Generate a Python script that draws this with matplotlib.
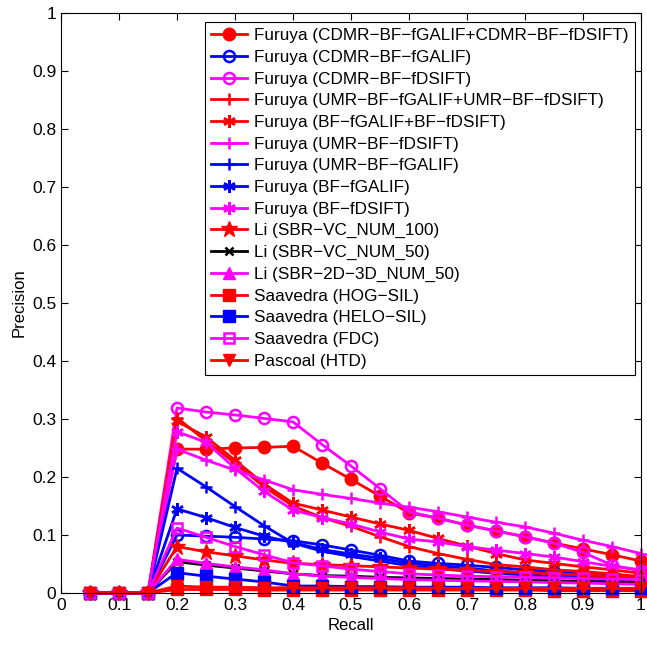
import matplotlib
matplotlib.use('Agg')
from matplotlib import pyplot as plt

recall = [0.05, 0.1, 0.15, 0.2, 0.25, 0.3, 0.35, 0.4, 0.45, 0.5,
          0.55, 0.6, 0.65, 0.7, 0.75, 0.8, 0.85, 0.9, 0.95, 1.0]

cdmr_both = [0, 0, 0, 0.248, 0.248, 0.250, 0.251, 0.253, 0.224, 0.196,
             0.167, 0.138, 0.129, 0.117, 0.107, 0.097, 0.086, 0.076, 0.066, 0.055]
cdmr_galif = [0, 0, 0, 0.100, 0.098, 0.096, 0.093, 0.090, 0.083, 0.074,
              0.065, 0.055, 0.051, 0.048, 0.044, 0.040, 0.037, 0.033, 0.029, 0.025]
cdmr_dsift = [0, 0, 0, 0.319, 0.312, 0.307, 0.301, 0.295, 0.256, 0.219,
              0.180, 0.140, 0.129, 0.117, 0.107, 0.097, 0.086, 0.070, 0.048, 0.038]
umr_both = [0, 0, 0, 0.302, 0.262, 0.224, 0.183, 0.150, 0.130, 0.115,
            0.097, 0.080, 0.068, 0.058, 0.049, 0.045, 0.040, 0.037, 0.033, 0.028]
bf_both = [0, 0, 0, 0.296, 0.269, 0.229, 0.188, 0.155, 0.143, 0.131,
           0.119, 0.108, 0.094, 0.081, 0.068, 0.057, 0.051, 0.045, 0.040, 0.034]
umr_dsift = [0, 0, 0, 0.248, 0.229, 0.212, 0.195, 0.178, 0.170, 0.163,
             0.155, 0.148, 0.140, 0.131, 0.122, 0.114, 0.103, 0.091, 0.080, 0.068]
umr_galif = [0, 0, 0, 0.215, 0.183, 0.149, 0.116, 0.086, 0.072, 0.063,
             0.055, 0.047, 0.042, 0.038, 0.034, 0.031, 0.028, 0.025, 0.022, 0.020]
bf_galif = [0, 0, 0, 0.145, 0.130, 0.113, 0.098, 0.087, 0.075, 0.067,
            0.060, 0.051, 0.047, 0.043, 0.038, 0.035, 0.032, 0.029, 0.026, 0.024]
bf_dsift = [0, 0, 0, 0.278, 0.260, 0.215, 0.175, 0.143, 0.130, 0.119,
            0.105, 0.093, 0.088, 0.080, 0.074, 0.068, 0.062, 0.054, 0.046, 0.040]
li_vc100 = [0, 0, 0, 0.080, 0.071, 0.064, 0.057, 0.051, 0.049, 0.047,
            0.045, 0.043, 0.041, 0.039, 0.037, 0.035, 0.033, 0.031, 0.029, 0.027]
li_vc50 = [0, 0, 0, 0.054, 0.048, 0.043, 0.038, 0.033, 0.030, 0.029,
           0.027, 0.026, 0.025, 0.024, 0.023, 0.022, 0.021, 0.020, 0.019, 0.018]
li_2d3d = [0, 0, 0, 0.058, 0.051, 0.045, 0.040, 0.033, 0.029, 0.027,
           0.025, 0.023, 0.022, 0.021, 0.020, 0.019, 0.018, 0.017, 0.016, 0.015]
sa_hog = [0, 0, 0, 0.006, 0.006, 0.006, 0.005, 0.005, 0.005, 0.005,
          0.005, 0.005, 0.005, 0.005, 0.005, 0.005, 0.004, 0.004, 0.004, 0.004]
sa_helo = [0, 0, 0, 0.035, 0.029, 0.024, 0.019, 0.012, 0.012, 0.011,
           0.011, 0.010, 0.010, 0.010, 0.009, 0.009, 0.009, 0.008, 0.008, 0.008]
sa_fdc = [0, 0, 0, 0.112, 0.096, 0.080, 0.066, 0.052, 0.047, 0.041,
          0.037, 0.033, 0.031, 0.029, 0.028, 0.027, 0.026, 0.025, 0.024, 0.023]
pa_htd = [0, 0, 0, 0.012, 0.010, 0.010, 0.009, 0.009, 0.009, 0.009,
          0.009, 0.009, 0.008, 0.008, 0.008, 0.008, 0.008, 0.008, 0.008, 0.008]

M = '\u2212'
labels = [
    'Furuya (CDMR' + M + 'BF' + M + 'fGALIF+CDMR' + M + 'BF' + M + 'fDSIFT)',
    'Furuya (CDMR' + M + 'BF' + M + 'fGALIF)',
    'Furuya (CDMR' + M + 'BF' + M + 'fDSIFT)',
    'Furuya (UMR' + M + 'BF' + M + 'fGALIF+UMR' + M + 'BF' + M + 'fDSIFT)',
    'Furuya (BF' + M + 'fGALIF+BF' + M + 'fDSIFT)',
    'Furuya (UMR' + M + 'BF' + M + 'fDSIFT)',
    'Furuya (UMR' + M + 'BF' + M + 'fGALIF)',
    'Furuya (BF' + M + 'fGALIF)',
    'Furuya (BF' + M + 'fDSIFT)',
    'Li (SBR' + M + 'VC_NUM_100)',
    'Li (SBR' + M + 'VC_NUM_50)',
    'Li (SBR' + M + '2D' + M + '3D_NUM_50)',
    'Saavedra (HOG' + M + 'SIL)',
    'Saavedra (HELO' + M + 'SIL)',
    'Saavedra (FDC)',
    'Pascoal (HTD)',
]

R, B, P, K = (1, 0, 0), (0, 0, 1), (1, 0, 1), (0, 0, 0)
ast = (6, 2, 0)
# (data, colour, marker, size, filled)
series = [
    (cdmr_both, R, 'o', 9, True),
    (cdmr_galif, B, 'o', 8, False),
    (cdmr_dsift, P, 'o', 8, False),
    (umr_both, R, '+', 9, True),
    (bf_both, R, ast, 9, True),
    (umr_dsift, P, '+', 9, True),
    (umr_galif, B, '+', 9, True),
    (bf_galif, B, ast, 9, True),
    (bf_dsift, P, ast, 9, True),
    (li_vc100, R, '*', 12, True),
    (li_vc50, K, 'x', 6, True),
    (li_2d3d, P, '^', 9, True),
    (sa_hog, R, 's', 8, True),
    (sa_helo, B, 's', 8, True),
    (sa_fdc, P, 's', 7, False),
    (pa_htd, R, 'v', 9, True),
]

plt.rcParams['font.family'] = 'Liberation Sans'
plt.rcParams['font.size'] = 12.5
plt.rcParams['xtick.direction'] = 'in'
plt.rcParams['ytick.direction'] = 'in'

fig = plt.figure(figsize=(6.47, 6.47), dpi=100)
ax = fig.add_axes([0.0943, 0.0835, 0.8964, 0.8964])

for (vals, c, mk, ms, filled), lab in zip(series, labels):
    ax.plot(recall, vals, color=c, marker=mk, markersize=ms, linewidth=2,
            markeredgewidth=1.8 if not filled or mk in ('+', 'x', ast) else 1,
            markerfacecolor=c if filled else 'none', markeredgecolor=c,
            label=lab, clip_on=False)

ax.set_xlim(0, 1)
ax.set_ylim(0, 1)
ticks = [i / 10 for i in range(11)]
ticklabels = ['0'] + ['%.1f' % t for t in ticks[1:-1]] + ['1']
ax.set_xticks(ticks)
ax.set_xticklabels(ticklabels)
ax.set_yticks(ticks)
ax.set_yticklabels(ticklabels)
ax.xaxis.set_ticks_position('both')
ax.yaxis.set_ticks_position('both')
ax.tick_params(length=5, width=0.8)
ax.set_xlabel('Recall', fontsize=12)
ax.set_ylabel('Precision', fontsize=12)

leg = ax.legend(loc='upper right', bbox_to_anchor=(0.989, 0.984), fancybox=False,
                framealpha=1, edgecolor='black', handlelength=2.1,
                handletextpad=0.4, labelspacing=0.39, borderpad=0.35,
                borderaxespad=0, prop={'size': 12.3})
leg.get_frame().set_linewidth(0.8)

fig.savefig('out.png', dpi=100)
